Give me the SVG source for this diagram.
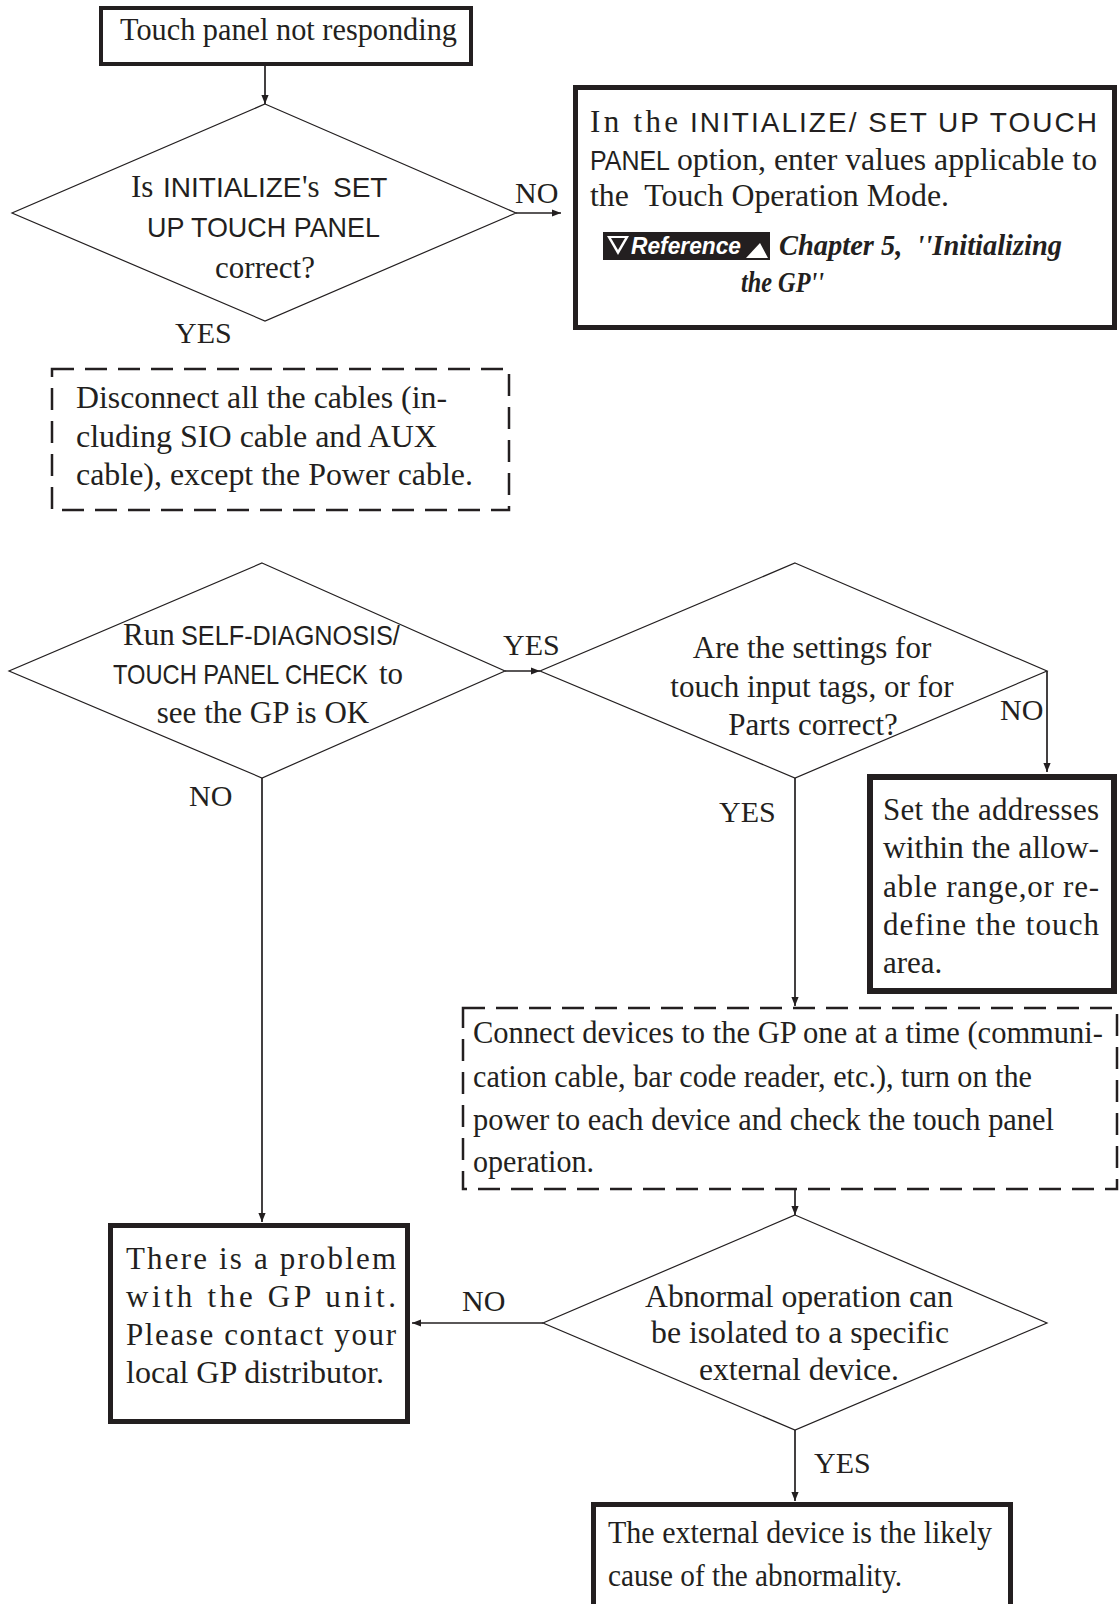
<svg xmlns="http://www.w3.org/2000/svg" width="1119" height="1604" viewBox="0 0 1119 1604">
<style>
.t{font-family:'Liberation Serif','Times New Roman',serif;font-size:31px;fill:#231f20}
.s{font-family:'Liberation Sans',Arial,sans-serif;font-size:28px;fill:#231f20}
.bi{font-family:'Liberation Serif','Times New Roman',serif;font-size:30px;font-weight:bold;font-style:italic;fill:#231f20}
.lb{font-family:'Liberation Serif','Times New Roman',serif;font-size:30px;fill:#231f20}
.c{text-anchor:middle}
.box{fill:#fff;stroke:#231f20}
.dia{fill:#fff;stroke:#231f20;stroke-width:1.2}
.dash{fill:none;stroke:#231f20;stroke-width:2.5;stroke-dasharray:22 11}
.conn{fill:none;stroke:#231f20;stroke-width:1.7;marker-end:url(#ah)}
</style>
<defs>
<marker id="ah" viewBox="0 0 10 10" refX="10" refY="5" markerWidth="9" markerHeight="9" markerUnits="userSpaceOnUse" orient="auto">
<path d="M0,1 L10,5 L0,9 z" fill="#231f20"/>
</marker>
</defs>
<rect width="1119" height="1604" fill="#fff"/>

<g id="connectors">
<line class="conn" x1="265" y1="66" x2="265" y2="104"/>
<line class="conn" x1="516" y1="213" x2="561" y2="213"/>
<line class="conn" x1="505" y1="671" x2="540" y2="671"/>
<line class="conn" x1="1047" y1="671" x2="1047" y2="772"/>
<line class="conn" x1="795" y1="778" x2="795" y2="1006"/>
<line class="conn" x1="795" y1="1190" x2="795" y2="1215"/>
<line class="conn" x1="543" y1="1323" x2="412" y2="1323"/>
<line class="conn" x1="795" y1="1430" x2="795" y2="1501"/>
<line class="conn" x1="262" y1="778" x2="262" y2="1222"/>
</g>

<g id="labels">
<text class="lb" x="515" y="203">NO</text>
<text class="lb" x="175" y="343">YES</text>
<text class="lb" x="503" y="655">YES</text>
<text class="lb" x="189" y="806">NO</text>
<text class="lb" x="1000" y="720">NO</text>
<text class="lb" x="719" y="822">YES</text>
<text class="lb" x="462" y="1311">NO</text>
<text class="lb" x="814" y="1473">YES</text>
</g>

<g id="start">
<rect class="box" x="101" y="8" width="370" height="56" stroke-width="4"/>
<text class="t" x="120" y="40" textLength="337" lengthAdjust="spacingAndGlyphs">Touch panel not responding</text>
</g>

<g id="q-setup">
<polygon class="dia" points="265,104 516,213 265,321 12,213"/>
<text class="t" x="131" y="197">Is</text>
<text class="s" x="163" y="197">INITIALIZE</text>
<text class="t" x="302" y="197">'s</text>
<text class="s" x="333" y="197">SET</text>
<text class="s" x="147" y="237" textLength="233" lengthAdjust="spacingAndGlyphs">UP TOUCH PANEL</text>
<text class="t c" x="265" y="278">correct?</text>
</g>

<g id="fix-setup">
<rect class="box" x="575.5" y="87.5" width="539" height="240" stroke-width="5"/>
<text class="t" x="590" y="132" textLength="88" lengthAdjust="spacing">In the</text>
<text class="s" x="690" y="132" textLength="407" lengthAdjust="spacing">INITIALIZE/ SET UP TOUCH</text>
<text class="s" x="590" y="170" textLength="80" lengthAdjust="spacingAndGlyphs">PANEL</text>
<text class="t" x="677" y="170" textLength="420" lengthAdjust="spacingAndGlyphs">option, enter values applicable to</text>
<text class="t" x="590" y="206" xml:space="preserve" textLength="359" lengthAdjust="spacingAndGlyphs">the  Touch Operation Mode.</text>
<rect x="603" y="232" width="167" height="28" fill="#231f20"/>
<polygon points="607,236 629,236 618,255" fill="#fff"/>
<polygon points="611,238 625,238 618,250" fill="#231f20"/>
<polygon points="746,258 768,258 760,243" fill="#fff"/>
<text x="631" y="254" textLength="110" lengthAdjust="spacingAndGlyphs" style="font-family:'Liberation Sans',Arial,sans-serif;font-size:24px;font-weight:bold;font-style:italic;fill:#fff">Reference</text>
<text class="bi" x="779" y="255" xml:space="preserve" textLength="283" lengthAdjust="spacingAndGlyphs">Chapter 5,  ''Initializing</text>
<text class="bi" x="741" y="292" textLength="83" lengthAdjust="spacingAndGlyphs">the GP''</text>
</g>

<g id="disconnect">
<rect class="dash" x="52" y="369" width="457" height="141"/>
<text class="t" x="76" y="408" textLength="371" lengthAdjust="spacingAndGlyphs">Disconnect all the cables (in-</text>
<text class="t" x="76" y="447" textLength="361" lengthAdjust="spacingAndGlyphs">cluding SIO cable and AUX</text>
<text class="t" x="76" y="485" textLength="397" lengthAdjust="spacingAndGlyphs">cable), except the Power cable.</text>
</g>

<g id="q-selfdiag">
<polygon class="dia" points="262,563 505,671 262,778 9,671"/>
<text class="t" x="123" y="645">Run</text>
<text class="s" transform="translate(181,645) scale(0.902,1)">SELF-DIAGNOSIS/</text>
<text class="s" transform="translate(113,684) scale(0.846,1)">TOUCH PANEL CHECK</text>
<text class="t" x="379" y="684">to</text>
<text class="t c" x="263" y="723">see the GP is OK</text>
</g>

<g id="q-settings">
<polygon class="dia" points="795,563 1047,671 795,778 540,671"/>
<text class="t c" x="812" y="658">Are the settings for</text>
<text class="t c" x="812" y="697">touch input tags, or for</text>
<text class="t c" x="813" y="735">Parts correct?</text>
</g>

<g id="fix-address">
<rect class="box" x="870" y="777" width="244" height="214" stroke-width="6"/>
<text class="t" x="883" y="820" textLength="216" lengthAdjust="spacing">Set the addresses</text>
<text class="t" x="883" y="858" textLength="216" lengthAdjust="spacingAndGlyphs">within the allow-</text>
<text class="t" x="883" y="897" textLength="216" lengthAdjust="spacing">able range,or re-</text>
<text class="t" x="883" y="935" textLength="216" lengthAdjust="spacing">define the touch</text>
<text class="t" x="883" y="973">area.</text>
</g>

<g id="connect-devices">
<rect class="dash" x="463" y="1008" width="654" height="181"/>
<text class="t" x="473" y="1043" textLength="630" lengthAdjust="spacingAndGlyphs">Connect devices to the GP one at a time (communi-</text>
<text class="t" x="473" y="1087" textLength="559" lengthAdjust="spacingAndGlyphs">cation cable, bar code reader, etc.), turn on the</text>
<text class="t" x="473" y="1130" textLength="581" lengthAdjust="spacingAndGlyphs">power to each device and check the touch panel</text>
<text class="t" x="473" y="1172" textLength="121" lengthAdjust="spacingAndGlyphs">operation.</text>
</g>

<g id="q-isolate">
<polygon class="dia" points="795,1215 1047,1323 795,1430 543,1323"/>
<text class="t c" x="799" y="1307" textLength="308" lengthAdjust="spacingAndGlyphs">Abnormal operation can</text>
<text class="t c" x="800" y="1343" textLength="298" lengthAdjust="spacingAndGlyphs">be isolated to a specific</text>
<text class="t c" x="799" y="1380" textLength="200" lengthAdjust="spacingAndGlyphs">external device.</text>
</g>

<g id="gp-problem">
<rect class="box" x="110.5" y="1225.5" width="297" height="196" stroke-width="5"/>
<text class="t" x="126" y="1269" textLength="270" lengthAdjust="spacing">There is a problem</text>
<text class="t" x="126" y="1307" textLength="270" lengthAdjust="spacing">with the GP unit.</text>
<text class="t" x="126" y="1345" textLength="270" lengthAdjust="spacing">Please contact your</text>
<text class="t" x="126" y="1383" textLength="258" lengthAdjust="spacingAndGlyphs">local GP distributor.</text>
</g>

<g id="external-cause">
<rect class="box" x="593.5" y="1504.5" width="417" height="130" stroke-width="5"/>
<text class="t" x="608" y="1543" textLength="384" lengthAdjust="spacingAndGlyphs">The external device is the likely</text>
<text class="t" x="608" y="1586" textLength="294" lengthAdjust="spacingAndGlyphs">cause of the abnormality.</text>
</g>
</svg>
